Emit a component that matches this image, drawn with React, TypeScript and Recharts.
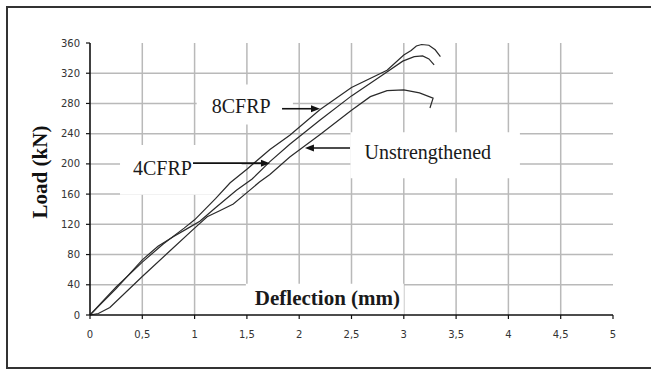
import React from 'react';
import { LineChart, Line, XAxis, YAxis, ReferenceLine, ReferenceArea, Label } from 'recharts';

// Axis ticks and grid values
const xTicks = [0, 0.5, 1, 1.5, 2, 2.5, 3, 3.5, 4, 4.5, 5];
const yTicks = [0, 40, 80, 120, 160, 200, 240, 280, 320, 360];
const xGrid = [0.5, 1, 1.5, 2, 2.5, 3, 3.5, 4, 4.5];
const yGrid = [40, 80, 120, 160, 200, 240, 280, 320];

// 8CFRP series (deflection mm, load kN)
const cfrp8Deflection = [0, 0.1, 0.25, 0.5, 0.7, 0.9, 1.0, 1.2, 1.34, 1.5, 1.72, 1.91, 2.2, 2.5, 2.84, 3.0, 3.07, 3.12, 3.17, 3.24, 3.3, 3.35];
const cfrp8Load = [0, 15, 37, 70, 94, 115, 126, 154, 175, 193, 219, 238, 272, 301, 324, 344, 350, 356, 358, 357, 351, 342];

// 4CFRP series
const cfrp4Deflection = [0, 0.1, 0.25, 0.5, 0.65, 0.8, 0.95, 1.05, 1.2, 1.4, 1.55, 1.72, 1.91, 2.2, 2.5, 2.8, 2.99, 3.1, 3.18, 3.24, 3.29];
const cfrp4Load = [0, 14, 35, 73, 91, 104, 116, 124, 142, 165, 180, 203, 226, 258, 290, 318, 336, 342, 343, 339, 331];

// Unstrengthened series
const unstrDeflection = [0, 0.08, 0.19, 0.5, 0.75, 1.0, 1.12, 1.24, 1.37, 1.5, 1.62, 1.72, 1.91, 2.2, 2.5, 2.68, 2.84, 3.0, 3.15, 3.28, 3.25];
const unstrLoad = [0, 2, 10, 51, 83, 115, 130, 138, 147, 162, 176, 186, 209, 239, 271, 289, 297, 298, 294, 287, 274];

const toPoints = (d: number[], l: number[]) => d.map((x, i) => ({ d: x, load: l[i] }));
const cfrp8 = toPoints(cfrp8Deflection, cfrp8Load);
const cfrp4 = toPoints(cfrp4Deflection, cfrp4Load);
const unstr = toPoints(unstrDeflection, unstrLoad);

const SERIF = "'Liberation Serif', 'Times New Roman', serif";
const SANS = "'DejaVu Sans', Verdana, sans-serif";

const boxText = (text: string, dx: number, dy: number, bold = false, size = 20) => (props: any) => {
  const vb = props.viewBox || {};
  return (
    <text x={(vb.x || 0) + dx} y={(vb.y || 0) + dy} fontFamily={SERIF} fontSize={size}
      fontWeight={bold ? 'bold' : 'normal'} fill="#1a1a1a">{text}</text>
  );
};

const yLabel = (props: any) => {
  const vb = props.viewBox || {};
  const cx = (vb.x || 0) + 40;
  const cy = (vb.y || 0) + 129;
  return (
    <text x={cx} y={cy} transform={`rotate(-90 ${cx} ${cy})`} textAnchor="middle" dominantBaseline="central"
      fontFamily={SERIF} fontSize={21} fontWeight="bold" fill="#111">Load (kN)</text>
  );
};

const arrowShape = (props: any) => {
  const { x1, y1, x2, y2 } = props;
  if ([x1, y1, x2, y2].some((v) => typeof v !== 'number' || isNaN(v))) return <g />;
  const dir = Math.sign(x2 - x1) || 1;
  const hl = 9, hw = 3.5;
  return (
    <g>
      <line x1={x1} y1={y1} x2={x2 - dir * hl * 0.7} y2={y2} stroke="#111" strokeWidth={1.6} />
      <polygon points={`${x2},${y2} ${x2 - dir * hl},${y2 - hw} ${x2 - dir * hl},${y2 + hw}`} fill="#111" />
    </g>
  );
};

export default function App() {
  return (
    <div style={{ position: 'absolute', left: 0, top: 0, width: 651, height: 369, background: '#fff', overflow: 'hidden' }}>
      <div style={{ position: 'absolute', left: 6, top: 6, width: 660, height: 363, boxSizing: 'border-box',
        borderLeft: '2px solid #333', borderTop: '2px solid #333', borderBottom: '2px solid #333' }} />
      <div style={{ position: 'absolute', left: 0, top: 0 }}>
        <LineChart width={651} height={369} margin={{ top: 43, right: 38, bottom: 24, left: 0 }}>
          {xGrid.map((v) => (
            <ReferenceLine key={'gx' + v} x={v} stroke="#b9b9b9" strokeWidth={1.5} zIndex={-100} />
          ))}
          {yGrid.map((v) => (
            <ReferenceLine key={'gy' + v} y={v} stroke="#b9b9b9" strokeWidth={1.5} zIndex={-100} />
          ))}
          <ReferenceArea x1={0.287} x2={1.45} y1={159} y2={225} fill="#fff" fillOpacity={1} stroke="none" zIndex={-50}>
            <Label content={boxText('4CFRP', 13, 30)} />
          </ReferenceArea>
          <ReferenceArea x1={1.02} x2={1.94} y1={252} y2={305} fill="#fff" fillOpacity={1} stroke="none" zIndex={-50}>
            <Label content={boxText('8CFRP', 15, 28)} />
          </ReferenceArea>
          <ReferenceArea x1={2.49} x2={4.11} y1={181} y2={242} fill="#fff" fillOpacity={1} stroke="none" zIndex={-50}>
            <Label content={boxText('Unstrengthened', 14, 27)} />
          </ReferenceArea>
          <ReferenceArea x1={1.49} x2={3.0} y1={0} y2={41.5} fill="#fff" fillOpacity={1} stroke="none" zIndex={-50}>
            <Label content={boxText('Deflection (mm)', 9, 21, true, 21)} />
          </ReferenceArea>
          <XAxis dataKey="d" type="number" domain={[0, 5]} ticks={xTicks} interval={0} height={30}
            tickFormatter={(v: number) => String(v).replace('.', ',')}
            axisLine={{ stroke: '#111', strokeWidth: 1.6 }} tickLine={{ stroke: '#111', strokeWidth: 1.2 }}
            tickSize={4} tickMargin={12} tick={{ fontSize: 10, fill: '#333', fontFamily: SANS }} />
          <YAxis type="number" domain={[0, 360]} ticks={yTicks} interval={0} width={90}
            axisLine={{ stroke: '#111', strokeWidth: 1.6 }} tickLine={{ stroke: '#111', strokeWidth: 1.2 }}
            tickSize={4} tickMargin={6} tick={{ fontSize: 10, fill: '#333', fontFamily: SANS }}>
            <Label content={yLabel} />
          </YAxis>
          <Line data={cfrp8} dataKey="load" type="linear" dot={false} stroke="#2a2a2a" strokeWidth={1.2} isAnimationActive={false} />
          <Line data={cfrp4} dataKey="load" type="linear" dot={false} stroke="#2a2a2a" strokeWidth={1.2} isAnimationActive={false} />
          <Line data={unstr} dataKey="load" type="linear" dot={false} stroke="#2a2a2a" strokeWidth={1.2} isAnimationActive={false} />
          <ReferenceLine segment={[{ x: 0.985, y: 201 }, { x: 1.72, y: 201 }]} shape={arrowShape} />
          <ReferenceLine segment={[{ x: 1.836, y: 273 }, { x: 2.199, y: 273 }]} shape={arrowShape} />
          <ReferenceLine segment={[{ x: 2.486, y: 221 }, { x: 2.055, y: 221 }]} shape={arrowShape} />
        </LineChart>
      </div>
    </div>
  );
}
